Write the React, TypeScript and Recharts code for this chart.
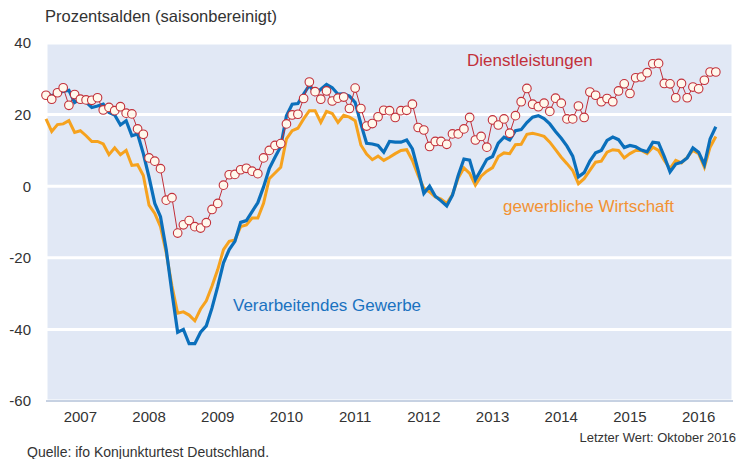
import React from 'react';
import { LineChart, Line, XAxis, YAxis, CartesianGrid } from 'recharts';

// ifo Geschäftsklima, Prozentsalden, Jan 2007 – Okt 2016 (monatlich)
const years = ['2007', '2008', '2009', '2010', '2011', '2012', '2013', '2014', '2015', '2016'];

const dienstleistungen = [
  25.4, 24.3, 26.1, 27.5, 22.6, 25.6, 24.3, 24.1, 24.0, 24.7, 21.3, 22.0,
  21.1, 22.2, 20.4, 20.2, 16.0, 14.5, 7.9, 7.0, 4.9, -3.9, -3.2, -13.1,
  -10.8, -9.6, -11.3, -11.7, -10.2, -6.5, -4.8, 0.3, 3.2, 3.3, 4.6, 5.0,
  4.2, 3.5, 7.9, 10.0, 11.4, 11.9, 17.4, 19.9, 20.1, 24.5, 29.1, 26.4,
  24.3, 26.6, 23.8, 24.6, 24.9, 21.7, 27.4, 21.7, 16.8, 17.5, 19.4, 21.2,
  21.1, 19.2, 21.1, 21.2, 22.9, 16.4, 15.7, 11.1, 12.5, 12.5, 11.7, 14.6,
  14.6, 16.0, 19.2, 12.9, 13.9, 10.9, 18.5, 17.1, 18.8, 14.8, 19.7, 23.6,
  27.3, 22.9, 22.2, 23.2, 20.9, 24.6, 23.2, 18.8, 18.8, 22.4, 19.2, 26.3,
  25.4, 23.6, 24.5, 23.6, 26.6, 28.6, 25.9, 30.3, 30.5, 31.7, 34.2, 34.3,
  28.7, 28.6, 24.7, 28.7, 24.7, 27.7, 27.2, 29.6, 31.9, 31.9,
];

const verarbeitendes = [
  26.1, 25.2, 26.1, 26.5, 26.8, 23.4, 24.3, 23.5, 22.0, 22.4, 22.9, 20.6,
  19.9, 17.1, 18.3, 14.1, 14.6, 9.1, 2.5, -4.8, -8.5, -17.7, -29.7, -40.8,
  -40.0, -44.0, -44.0, -40.8, -39.0, -34.0, -28.0, -21.4, -17.7, -15.4, -10.1, -9.6,
  -7.1, -4.6, -0.2, 4.9, 8.1, 11.1, 19.7, 22.9, 23.1, 25.7, 28.2, 25.7,
  27.1, 28.4, 27.5, 25.7, 25.8, 25.2, 23.4, 17.4, 12.0, 11.8, 11.4, 9.5,
  12.5, 12.3, 12.3, 12.9, 10.4, 4.4, -2.0, 0.0, -2.8, -4.1, -5.5, -2.5,
  3.0, 7.6, 7.3, 1.8, 4.6, 7.5, 8.3, 12.0, 13.7, 12.9, 15.5, 15.8,
  17.8, 19.3, 19.7, 18.9, 17.4, 15.3, 13.4, 11.2, 8.4, 2.6, 3.8, 7.0,
  9.3, 10.0, 12.8, 13.7, 13.0, 10.8, 11.4, 11.0, 10.1, 9.6, 12.3, 12.1,
  8.3, 4.0, 6.2, 6.7, 7.9, 10.7, 9.5, 6.0, 13.2, 16.6,
];

const gewerblich = [
  18.8, 15.3, 17.2, 17.4, 18.3, 15.0, 15.5, 14.1, 12.5, 12.5, 11.8, 8.8,
  10.7, 8.8, 10.0, 5.8, 6.0, 3.0, -5.3, -7.6, -11.3, -18.6, -27.9, -35.5,
  -35.1, -36.0, -37.6, -34.3, -32.0, -27.9, -23.3, -17.7, -15.4, -15.0, -11.3, -10.8,
  -8.9, -8.9, -4.8, 2.1, 3.7, 5.3, 13.2, 15.5, 16.2, 18.8, 21.1, 21.1,
  17.8, 20.9, 20.3, 17.8, 19.8, 19.3, 18.3, 11.5, 9.0, 7.4, 8.4, 7.2,
  8.1, 9.1, 10.0, 10.2, 7.2, 3.0, -0.6, -1.6, -3.0, -3.6, -4.8, -2.3,
  2.3, 5.1, 3.6, 0.3, 2.8, 4.2, 5.2, 8.3, 9.3, 9.1, 11.6, 11.7,
  14.5, 14.8, 14.4, 13.9, 12.3, 10.2, 8.1, 6.3, 4.4, 0.7, 2.1, 4.4,
  6.7, 7.0, 9.5, 10.2, 10.0, 7.9, 9.1, 10.0, 10.0, 9.1, 10.9, 10.0,
  7.2, 4.9, 7.2, 6.5, 8.1, 10.0, 9.1, 5.3, 10.9, 13.9,
];

const yTicks = [-60, -40, -20, 0, 20, 40];
const yearStarts = years.map((_, i) => i * 12).concat([years.length * 12]);
const yearMids = years.map((_, i) => i * 12 + 6);

const data = dienstleistungen.map((d, i) => ({
  m: i,
  dienst: d,
  verarb: verarbeitendes[i],
  gewerb: gewerblich[i],
}));

const FONT = '"Liberation Sans", Arial, sans-serif';
const BLUE = '#0b6fbb';
const ORANGE = '#f6a21e';
const RED = '#c2303a';

const label = (style: React.CSSProperties): React.CSSProperties => ({
  position: 'absolute',
  whiteSpace: 'nowrap',
  fontFamily: FONT,
  lineHeight: 1,
  ...style,
});

export default function App() {
  return (
    <div style={{ position: 'absolute', left: 0, top: 0, width: 743, height: 459, background: '#fff' }}>
      <LineChart
        width={743}
        height={459}
        data={data}
        margin={{ top: 43, right: 10, bottom: 28, left: 0 }}
        style={{ fontFamily: FONT }}
      >
        <CartesianGrid xAxisId="m" fill="#e1e8f5" stroke="#ffffff" strokeWidth={3} />
        <XAxis
          xAxisId="m"
          dataKey="m"
          type="number"
          domain={[0, 120]}
          ticks={yearStarts}
          tick={false}
          height={6}
          tickSize={4}
          axisLine={{ stroke: '#8ea4c6' }}
          tickLine={{ stroke: '#8ea4c6' }}
        />
        <XAxis
          xAxisId="yr"
          dataKey="m"
          type="number"
          domain={[0, 120]}
          ticks={yearMids}
          tickFormatter={(v: number) => years[Math.round((v - 6) / 12)]}
          height={24}
          tickSize={0}
          tickMargin={4}
          axisLine={false}
          tickLine={false}
          tick={{ fill: '#333', fontSize: 15 }}
        />
        <YAxis
          domain={[-60, 40]}
          ticks={yTicks}
          width={46}
          tickSize={0}
          tickMargin={15}
          axisLine={false}
          tickLine={false}
          tick={{ fill: '#333', fontSize: 15 }}
        />
        <Line
          xAxisId="m"
          dataKey="gewerb"
          stroke={ORANGE}
          strokeWidth={3}
          dot={false}
          isAnimationActive={false}
        />
        <Line
          xAxisId="m"
          dataKey="verarb"
          stroke={BLUE}
          strokeWidth={3.2}
          dot={false}
          isAnimationActive={false}
        />
        <Line
          xAxisId="m"
          dataKey="dienst"
          stroke={RED}
          strokeWidth={1}
          dot={{ r: 4.3, fill: '#fff8ec', stroke: RED, strokeWidth: 1.1 }}
          isAnimationActive={false}
        />
      </LineChart>

      <div style={label({ left: 45, top: 8, fontSize: 16.5, color: '#333' })}>Prozentsalden (saisonbereinigt)</div>
      <div style={label({ left: 467, top: 52, fontSize: 17, color: RED })}>Dienstleistungen</div>
      <div style={label({ left: 503, top: 198, fontSize: 17, color: '#f29233' })}>gewerbliche Wirtschaft</div>
      <div style={label({ left: 233, top: 297, fontSize: 17, color: '#1a72c0' })}>Verarbeitendes Gewerbe</div>
      <div style={label({ right: 7, top: 431, fontSize: 13, color: '#333' })}>Letzter Wert: Oktober 2016</div>
      <div style={label({ left: 27, top: 445, fontSize: 14, color: '#333' })}>Quelle: ifo Konjunkturtest Deutschland.</div>
    </div>
  );
}
